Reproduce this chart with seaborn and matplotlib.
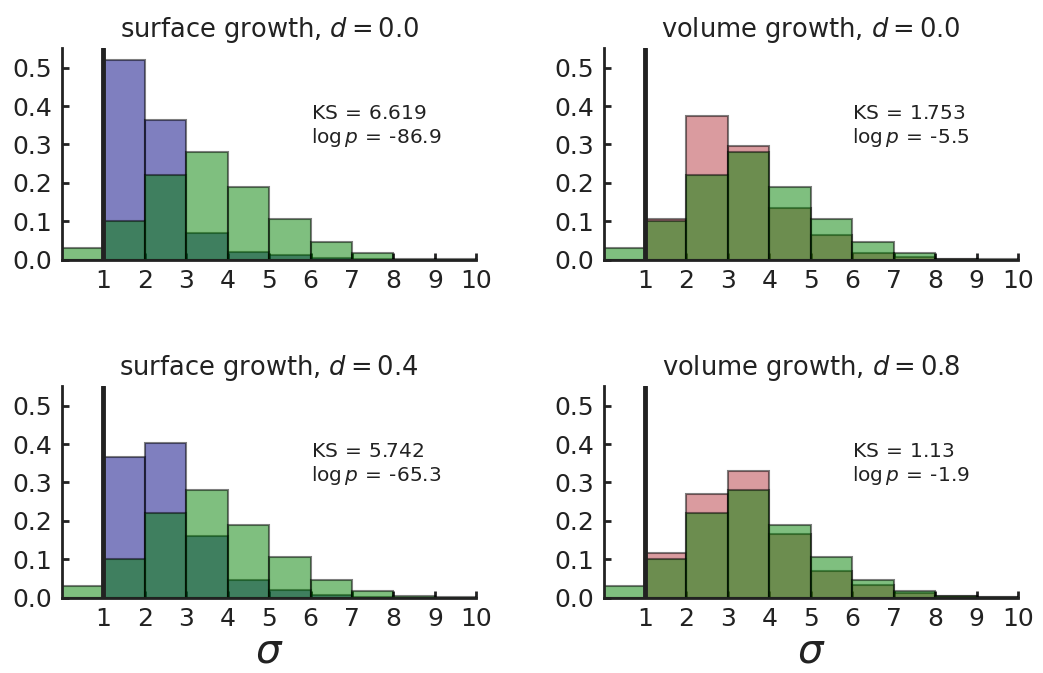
import numpy as np
import pandas as pd
import matplotlib
matplotlib.use("Agg")
import matplotlib.pyplot as plt
import seaborn as sns

# bin edges for sigma
edges = list(range(0, 11))
centers = [e + 0.5 for e in edges[:-1]]

# reference distribution (green), same in every panel
ref = [0.03, 0.10, 0.22, 0.28, 0.19, 0.105, 0.045, 0.017, 0.003, 0.001]

# model distributions
surf_d00 = [0.0, 0.52, 0.365, 0.07, 0.02, 0.012, 0.005, 0.001, 0.0, 0.0]
surf_d04 = [0.0, 0.367, 0.403, 0.16, 0.045, 0.02, 0.007, 0.001, 0.0, 0.0]
vol_d00 = [0.0, 0.105, 0.375, 0.295, 0.135, 0.065, 0.018, 0.008, 0.001, 0.0]
vol_d08 = [0.0, 0.115, 0.27, 0.33, 0.165, 0.07, 0.032, 0.012, 0.003, 0.002]

titles = [r"surface growth, $d = 0.0$", r"volume growth, $d = 0.0$",
          r"surface growth, $d = 0.4$", r"volume growth, $d = 0.8$"]
models = [surf_d00, vol_d00, surf_d04, vol_d08]
colors = ["#000080", "#b73941", "#000080", "#b73941"]
ks_vals = ["6.619", "1.753", "5.742", "1.13"]
logp_vals = ["-86.9", "-5.5", "-65.3", "-1.9"]

sns.set_style("ticks")
plt.rcParams["font.family"] = ["DejaVu Sans"]
plt.rcParams["mathtext.fontset"] = "dejavusans"

fig, axes = plt.subplots(2, 2, figsize=(10.43, 6.73), dpi=100)
fig.subplots_adjust(left=0.0594, right=0.976, top=0.928, bottom=0.112,
                    wspace=0.307, hspace=0.6)

for i, ax in enumerate(axes.flat):
    df_m = pd.DataFrame({"sigma": centers, "w": models[i]})
    df_r = pd.DataFrame({"sigma": centers, "w": ref})
    sns.histplot(data=df_m, x="sigma", weights="w", bins=edges, ax=ax,
                 color=colors[i], alpha=0.5, edgecolor=(0, 0, 0, 0.5),
                 linewidth=1.5)
    sns.histplot(data=df_r, x="sigma", weights="w", bins=edges, ax=ax,
                 color="green", alpha=0.5, edgecolor=(0, 0, 0, 0.5),
                 linewidth=1.5)
    ax.axvline(1, color="#222222", lw=3.5)
    ax.set_xlim(0, 10)
    ax.set_ylim(0, 0.55)
    ax.set_xticks(range(1, 11))
    ax.set_yticks([0.0, 0.1, 0.2, 0.3, 0.4, 0.5])
    ax.set_yticklabels(["0.0", "0.1", "0.2", "0.3", "0.4", "0.5"])
    ax.tick_params(direction="in", labelsize=18, width=2, length=5, colors="#222222")
    ax.tick_params(axis="x", pad=7)
    ax.tick_params(axis="y", pad=7)
    for s in ["left", "bottom"]:
        ax.spines[s].set_linewidth(2)
        ax.spines[s].set_color("#222222")
    sns.despine(ax=ax)
    ax.set_ylabel("")
    ax.set_title(titles[i], fontsize=18.5, color="#222222", pad=8)
    ax.text(0.60, 0.735, "KS$\\,=\\,$" + ks_vals[i] + "\n" + r"$\log p$$\,=\,$" + logp_vals[i],
            transform=ax.transAxes, fontsize=14.5, color="#222222", va="top",
            linespacing=1.15)
    if i >= 2:
        ax.set_xlabel(r"$\sigma$", fontsize=29, color="#222222", labelpad=0)
    else:
        ax.set_xlabel("")

fig.savefig("out.png", dpi=100)
